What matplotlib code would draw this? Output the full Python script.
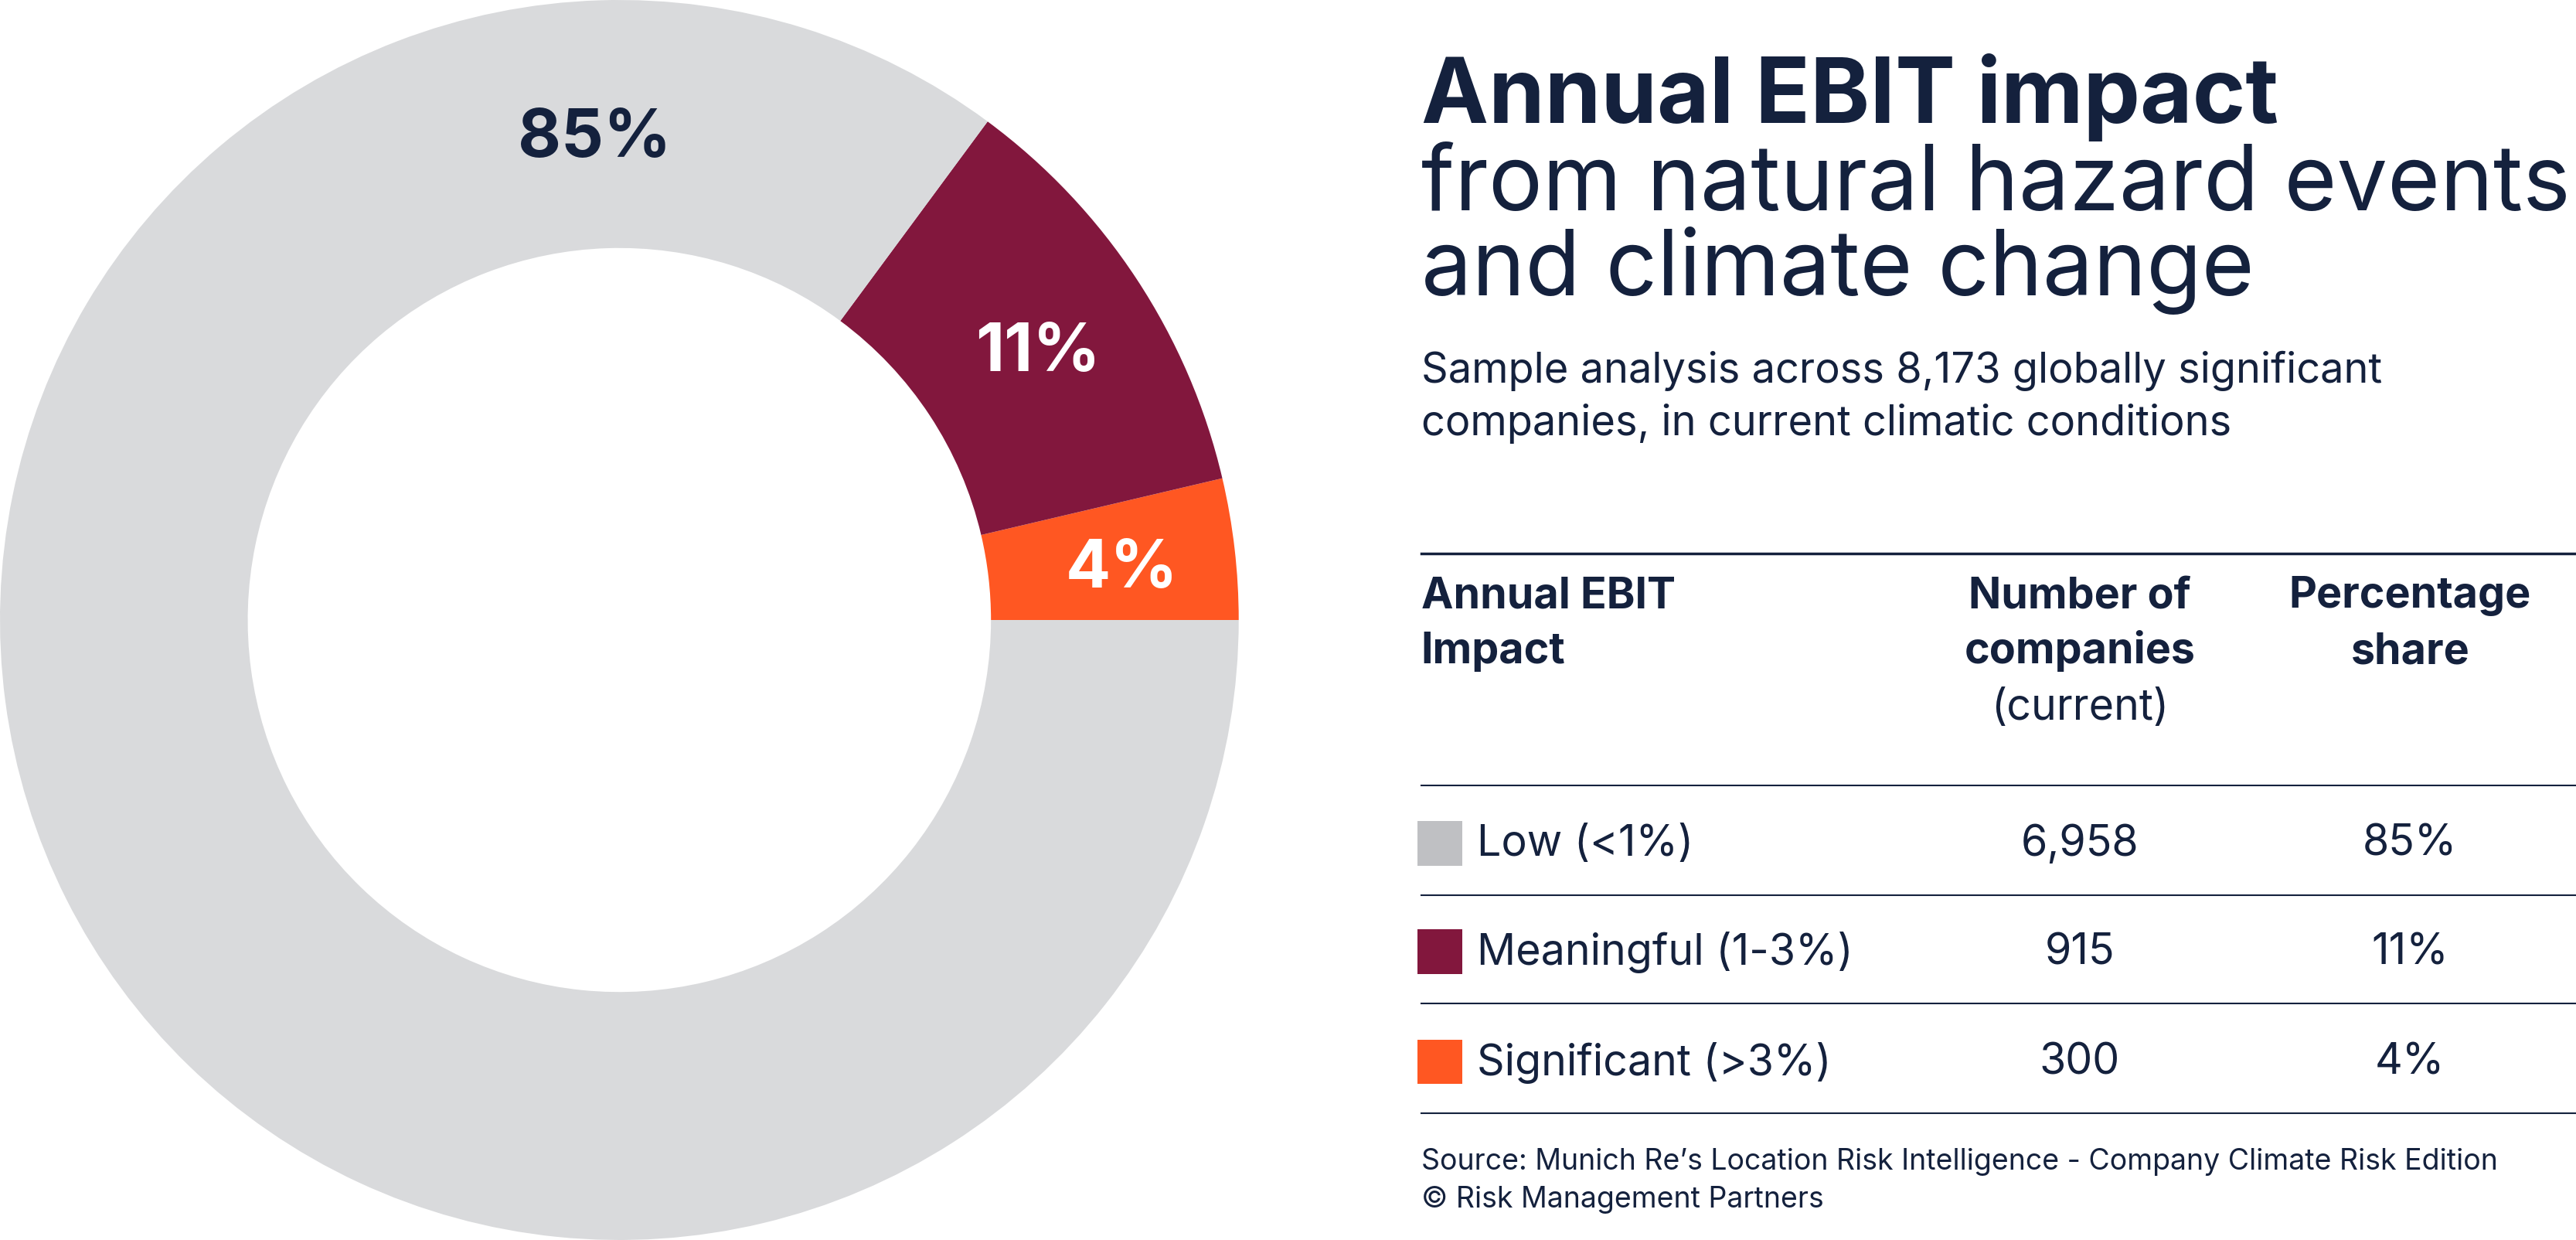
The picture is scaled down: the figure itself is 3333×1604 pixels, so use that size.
import matplotlib
matplotlib.use("Agg")
import matplotlib.pyplot as plt
from matplotlib.patches import Rectangle

plt.rcParams['font.family'] = ['Inter', 'DejaVu Sans']

categories = ["Low (<1%)", "Meaningful (1-3%)", "Significant (>3%)"]
companies = [6958, 915, 300]
shares = ["85%", "11%", "4%"]
colors = ["#d9dadc", "#82173d", "#ff5722"]
swatch = ["#bfc0c3", "#82173d", "#ff5722"]
navy = "#14213d"

fig = plt.figure(figsize=(33.33, 16.04), dpi=100)

ax = fig.add_axes([0, 0, 754/1568, 1])
ax.pie(companies[::-1], colors=colors[::-1], startangle=0, counterclock=True,
       radius=1, wedgeprops=dict(width=0.4, linewidth=0))
ax.set_xlim(-1, 1); ax.set_ylim(-1, 1); ax.set_aspect('auto'); ax.axis('off')
lab_pos = [(-0.04, 0.775), (0.676, 0.43), (0.812, 0.08)]
lab_col = [navy, "white", "white"]
for s, (x, y), c in zip(shares, lab_pos, lab_col):
    ax.text(x, y, s, ha='center', va='center', fontsize=62, fontweight='bold', color=c)

t = fig.add_axes([0, 0, 1, 1]); t.set_xlim(0, 1568); t.set_ylim(755, 0); t.axis('off')
t.text(865, 75, "Annual EBIT impact", fontsize=84, fontweight='bold', color=navy, va='baseline')
t.text(865, 128, "from natural hazard events", fontsize=84, color=navy, va='baseline')
t.text(865, 180, "and climate change", fontsize=84, color=navy, va='baseline')
t.text(865, 233, "Sample analysis across 8,173 globally significant", fontsize=39, color=navy, va='baseline')
t.text(865, 265, "companies, in current climatic conditions", fontsize=39, color=navy, va='baseline')

t.plot([865, 1568], [337, 337], color=navy, lw=2.5)
for y in [478, 545, 611, 678]:
    t.plot([865, 1568], [y, y], color=navy, lw=1.5)

hb = dict(fontsize=40, fontweight='bold', color=navy, va='baseline')
t.text(865, 370, "Annual EBIT", ha='left', **hb)
t.text(865, 404, "Impact", ha='left', **hb)
t.text(1266, 370, "Number of", ha='center', **hb)
t.text(1266, 404, "companies", ha='center', **hb)
t.text(1266, 438, "(current)", ha='center', fontsize=40, color=navy, va='baseline')
t.text(1467, 370, "Percentage", ha='center', **hb)
t.text(1467, 404, "share", ha='center', **hb)

for i, yc in enumerate([514, 580, 647]):
    t.add_patch(Rectangle((863, yc - 14), 27, 27, color=swatch[i], lw=0))
    t.text(899, yc, categories[i], fontsize=40, color=navy, va='center')
    t.text(1266, yc, f"{companies[i]:,}", fontsize=40, color=navy, va='center', ha='center')
    t.text(1467, yc, shares[i], fontsize=40, color=navy, va='center', ha='center')

t.text(865, 712, "Source: Munich Re\u2019s Location Risk Intelligence - Company Climate Risk Edition",
       fontsize=27, color=navy, va='baseline')
t.text(865, 735, "\u00a9 Risk Management Partners", fontsize=27, color=navy, va='baseline')

fig.savefig("out.png", dpi=100, facecolor='white')
